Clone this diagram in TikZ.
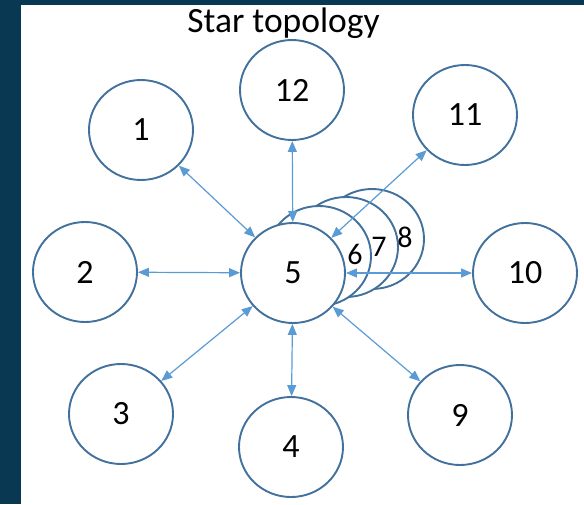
\documentclass[tikz,border=0pt]{standalone}
\usepackage{fontspec}
\setmainfont{Carlito}
\usetikzlibrary{arrows.meta,shapes.geometric}
\definecolor{frameblue}{RGB}{8,56,82}
\definecolor{ringblue}{HTML}{41719C}
\definecolor{linkblue}{HTML}{5B9BD5}
\begin{document}
\begin{tikzpicture}[x=1pt,y=-1pt,
  station/.style={ellipse, draw=ringblue, line width=1.9pt, fill=white,
    minimum width=104pt, minimum height=100pt, inner sep=0pt,
    font=\fontsize{34}{40}\selectfont},
  tag/.style={inner sep=0pt, font=\fontsize{30}{36}\selectfont},
  link/.style={draw=linkblue, line width=1.2pt,
    {Triangle[length=11pt,width=9pt]}-{Triangle[length=11pt,width=9pt]}}]
% page and frame
\useasboundingbox (0,0) rectangle (584,504);
\fill[white] (0,0) rectangle (584,504);
\fill[frameblue] (0,0) rectangle (21,504);
\fill[frameblue] (0,0) rectangle (584,5);

% title
\node[anchor=base, inner sep=0pt, font=\fontsize{35.5}{42}\selectfont] (title) at (283.5,32) {Star topology};

% stacked stations behind the hub
\node[station] (n8) at (372,239) {};
\node[station] (n7) at (346,247) {};
\node[station] (n6) at (319,256) {};
% hub
\node[station] (n5) at (293,273) {5};

% outer stations
\node[station] (n1)  at (141,130) {1};
\node[station] (n2)  at (85,272)  {2};
\node[station] (n3)  at (121,414) {3};
\node[station] (n4)  at (291,447) {4};
\node[station] (n9)  at (460,415) {9};
\node[station] (n10) at (525,273) {10};
\node[station] (n11) at (465,115) {11};
\node[station] (n12) at (292,90)  {12};

% links to the hub
\draw[link] (n1) -- (n5);
\draw[link] (n2) -- (n5);
\draw[link] (n3) -- (n5);
\draw[link] (n4) -- (n5);
\draw[link] (n9) -- (n5);
\draw[link] (n10) -- (n5);
\draw[link] (n11) -- (n5);
\draw[link] (n12) -- (n5);

% labels of the stacked stations
\node[tag] (t6) at (355,254) {6};
\node[tag] (t7) at (379,247) {7};
\node[tag] (t8) at (405,237) {8};
\end{tikzpicture}
\end{document}
